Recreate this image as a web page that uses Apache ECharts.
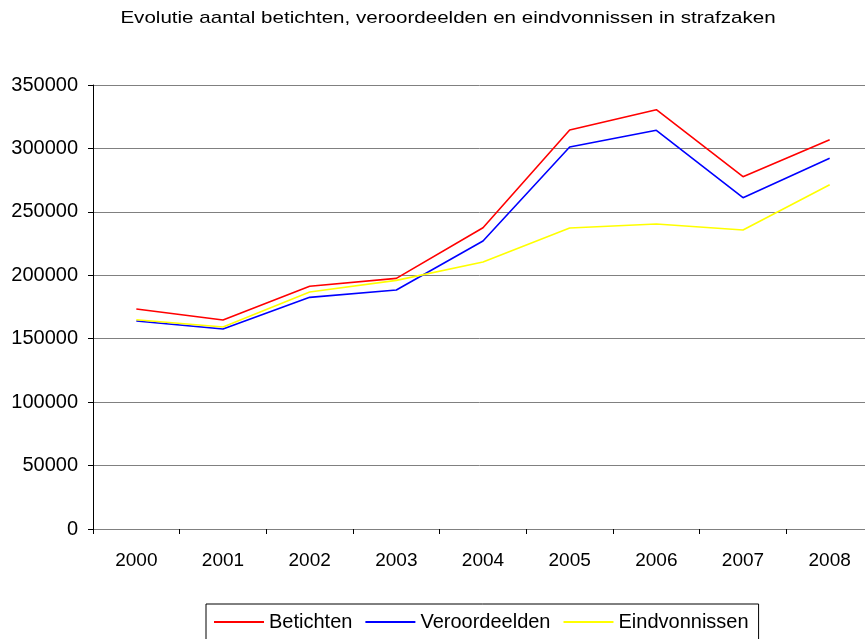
<!DOCTYPE html>
<html>
<head>
<meta charset="utf-8">
<script src="https://cdn.jsdelivr.net/npm/echarts@6/dist/echarts.min.js"></script>
<style>
  html, body { margin: 0; padding: 0; background: #fff; }
  #chart { width: 865px; height: 639px; }
</style>
</head>
<body>
<div id="chart"></div>
<script>
var titleText = 'Evolutie aantal betichten, veroordeelden en eindvonnissen in strafzaken';
var years = ['2000', '2001', '2002', '2003', '2004', '2005', '2006', '2007', '2008'];
var betichten = [173400, 164700, 191300, 197600, 237500, 314500, 330500, 277700, 306900];
var veroordeelden = [164000, 157600, 182600, 188400, 227000, 301100, 314300, 261200, 292200];
var eindvonnissen = [165000, 159200, 186800, 196000, 210500, 237300, 240400, 235700, 271400];

var font = '"Liberation Sans", Arial, sans-serif';

function lineSeries(name, data, color) {
    return {
        name: name,
        type: 'line',
        data: data,
        symbol: 'none',
        lineStyle: { color: color, width: 1.6 },
        itemStyle: { color: color }
    };
}

var chart = echarts.init(document.getElementById('chart'));
chart.setOption({
    animation: false,
    backgroundColor: '#ffffff',
    // title drawn as graphic text so it can be stretched like the original
    graphic: [{
        type: 'text',
        x: 448,
        y: 18,
        scaleX: 1.21,
        style: {
            text: titleText,
            x: 0,
            y: 0,
            align: 'center',
            verticalAlign: 'middle',
            font: '17px ' + font,
            fill: '#000'
        }
    }],
    grid: {
        left: 93,
        top: 85,
        width: 780,
        height: 444,
        outerBoundsMode: 'none'   // plot runs past the right edge, like the original
    },
    legend: {
        left: 206,
        top: 604,
        padding: [8, 10, 8, 7],
        borderColor: '#000',
        borderWidth: 1,
        itemWidth: 50,
        itemHeight: 2,
        itemGap: 12,
        textStyle: { fontSize: 20, fontFamily: font, color: '#000' },
        data: ['Betichten', 'Veroordeelden', 'Eindvonnissen']
    },
    xAxis: {
        type: 'category',
        data: years,
        boundaryGap: true,
        axisLine: { lineStyle: { color: '#808080', width: 1 } },
        axisTick: { show: true, length: 5, interval: 0, lineStyle: { color: '#000' } },
        axisLabel: { fontSize: 19, fontFamily: font, color: '#000', margin: 22, interval: 0 },
        splitLine: { show: false }
    },
    yAxis: {
        type: 'value',
        min: 0,
        max: 350000,
        interval: 50000,
        axisLine: { show: true, lineStyle: { color: '#000', width: 1 } },
        axisTick: { show: true, length: 5, lineStyle: { color: '#000' } },
        axisLabel: {
            fontSize: 20, fontFamily: font, color: '#000', margin: 15,
            formatter: function (v) { return String(v); }
        },
        splitLine: { show: true, lineStyle: { color: '#808080', width: 1 } }
    },
    series: [
        lineSeries('Betichten', betichten, '#ff0000'),
        lineSeries('Veroordeelden', veroordeelden, '#0000ff'),
        lineSeries('Eindvonnissen', eindvonnissen, '#ffff00')
    ]
});
</script>
</body>
</html>
